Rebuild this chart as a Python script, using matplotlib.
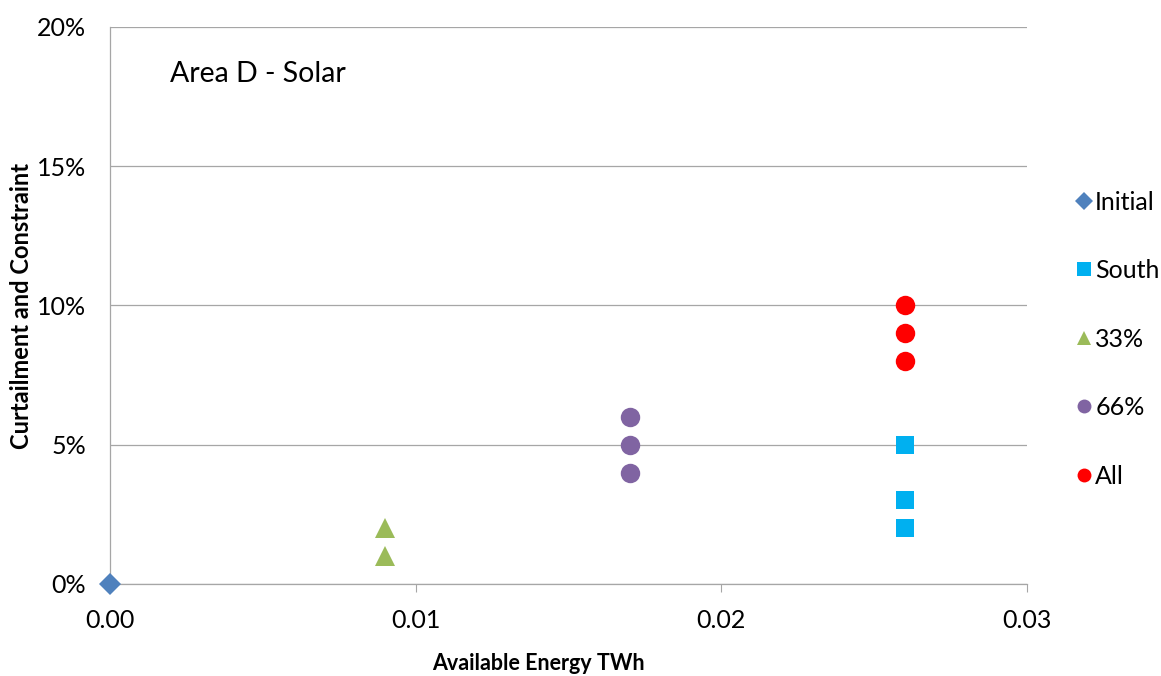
import matplotlib
matplotlib.use("Agg")
import matplotlib.pyplot as plt
from matplotlib.ticker import FuncFormatter, MultipleLocator

plt.rcParams['font.family'] = ['Lato', 'DejaVu Sans']

series = ["Initial", "South", "33%", "66%", "All"]
x_vals = {
    "Initial": [0.0],
    "South": [0.026, 0.026, 0.026],
    "33%": [0.009, 0.009],
    "66%": [0.017, 0.017, 0.017],
    "All": [0.026, 0.026, 0.026],
}
y_vals = {
    "Initial": [0.0],
    "South": [0.05, 0.03, 0.02],
    "33%": [0.02, 0.01],
    "66%": [0.06, 0.05, 0.04],
    "All": [0.10, 0.09, 0.08],
}
colors = {"Initial": "#4F81BD", "South": "#00B0F0", "33%": "#9BBB59",
          "66%": "#8064A2", "All": "#FF0000"}
markers = {"Initial": "D", "South": "s", "33%": "^", "66%": "o", "All": "o"}
sizes = {"Initial": 11, "South": 13, "33%": 15, "66%": 14, "All": 14}

fig = plt.figure(figsize=(11.61, 6.76), dpi=100)
ax = fig.add_axes([0.0947, 0.1361, 0.79, 0.824])

for s in series:
    ax.plot(x_vals[s], y_vals[s], linestyle='none', marker=markers[s],
            color=colors[s], markersize=sizes[s], markeredgewidth=0,
            label=s, clip_on=False, zorder=3)

ax.set_xlim(0, 0.03)
ax.set_ylim(0, 0.20)
ax.xaxis.set_major_locator(MultipleLocator(0.01))
ax.yaxis.set_major_locator(MultipleLocator(0.05))
ax.xaxis.set_major_formatter(FuncFormatter(lambda v, p: f"{v:.2f}"))
ax.yaxis.set_major_formatter(FuncFormatter(lambda v, p: f"{v*100:.0f}%"))
ax.grid(axis='y', color='#A6A6A6', linewidth=0.9)
ax.set_axisbelow(True)
for sp in ['top', 'right']:
    ax.spines[sp].set_visible(False)
for sp in ['left', 'bottom']:
    ax.spines[sp].set_color('#A6A6A6')
    ax.spines[sp].set_linewidth(0.9)
ax.tick_params(axis='x', direction='out', length=6, color='#A6A6A6',
               labelsize=18, pad=12)
ax.tick_params(axis='y', length=0, labelsize=18, pad=17)

fig.text(538 / 1161, 1 - 664 / 676, "Available Energy TWh", fontsize=15.5,
         fontweight='bold', ha='center', va='center')
fig.text(22 / 1161, 1 - 306 / 676, "Curtailment and Constraint", fontsize=17,
         fontweight='bold', ha='center', va='center', rotation=90)

ax.text(0.065, 0.915, "Area D - Solar", transform=ax.transAxes, fontsize=20.5,
        va='center', ha='left')

leg_handles = []
for s in series:
    leg_handles.append(plt.Line2D([], [], linestyle='none', marker=markers[s],
                                  color=colors[s], markersize=10 if markers[s] != 'D' else 9,
                                  markeredgewidth=0))
fig.legend(leg_handles, series, loc='center left', bbox_to_anchor=(0.925, 0.4985),
           frameon=False, fontsize=18, handletextpad=0.05, labelspacing=1.82,
           handlelength=0.8, borderaxespad=0, borderpad=0)

fig.savefig("out.png", dpi=100)
